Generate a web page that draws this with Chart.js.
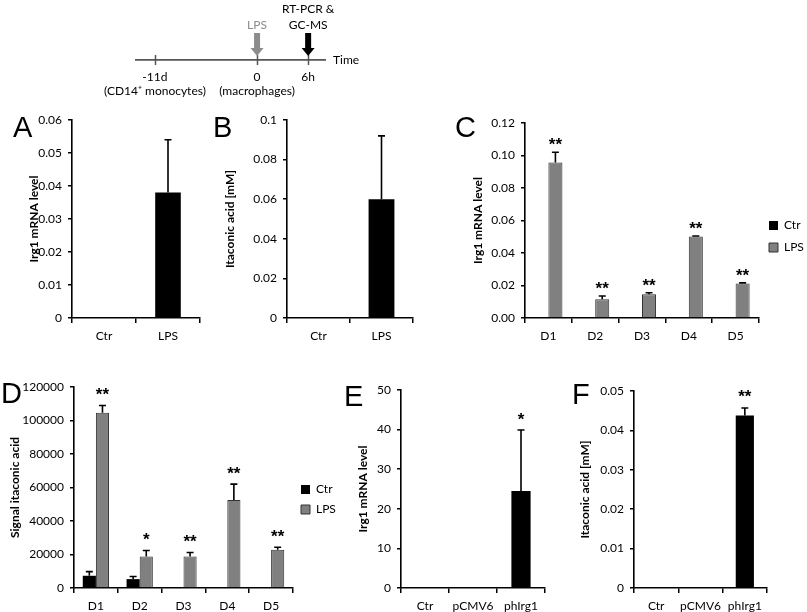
<!DOCTYPE html>
<html>
<head>
<meta charset="utf-8">
<script src="https://cdn.jsdelivr.net/npm/chart.js@4.4.1/dist/chart.umd.min.js"></script>
<style>
  body { margin: 0; background: #fff; }
  #fig { position: relative; width: 807px; height: 612px; overflow: hidden; }
  #fig canvas { position: absolute; }
  .letter { position: absolute; font-family: 'Liberation Sans', Arial, sans-serif; font-size: 29px; line-height: 1; color: #000; }
</style>
</head>
<body>
<div id="fig">
  <canvas id="timeline"></canvas>
  <canvas id="chartA"></canvas>
  <canvas id="chartB"></canvas>
  <canvas id="chartC"></canvas>
  <canvas id="chartD"></canvas>
  <canvas id="chartE"></canvas>
  <canvas id="chartF"></canvas>
  <div class="letter" style="left:13px;top:113px">A</div>
  <div class="letter" style="left:213px;top:113px">B</div>
  <div class="letter" style="left:455px;top:113px">C</div>
  <div class="letter" style="left:1px;top:379px">D</div>
  <div class="letter" style="left:344px;top:382px">E</div>
  <div class="letter" style="left:572px;top:380px">F</div>
</div>
<script>
// Timeline (schematic time axis)
const tlPos = [0, 2, 3];
const tlMain = ['-11d', '0', '6h'];
const tlSub = ['(CD14\u207A monocytes)', '(macrophages)', ''];
const tlEvents = [1, 2];
const tlEventText = [['LPS'], ['RT-PCR &', 'GC-MS']];

// A: Irg1 mRNA
const catA = ['Ctr', 'LPS'];
const valA = [0, 0.038];
const errA = [0, 0.016];

// B: itaconic acid
const catB = ['Ctr', 'LPS'];
const valB = [0, 0.06];
const errB = [0, 0.032];

// C: Irg1 mRNA per donor
const donors = ['D1', 'D2', 'D3', 'D4', 'D5'];
const ctrC = [0, 0, 0, 0, 0];
const lpsC = [0.0957, 0.0115, 0.0146, 0.0501, 0.0212];
const lpsErrC = [0.0063, 0.0020, 0.0009, 0.0004, 0.0004];
const starsC = ['**', '**', '**', '**', '**'];

// D: signal itaconic acid per donor
const ctrD = [7300, 5300, 0, 0, 0];
const ctrErrD = [2500, 1600, 0, 0, 0];
const lpsD = [104700, 18800, 18800, 52500, 22800];
const lpsErrD = [4300, 3600, 2400, 9500, 1500];
const starsD = ['**', '*', '**', '**', '**'];

// E / F: transfection
const catEF = ['Ctr', 'pCMV6', 'phIrg1'];
const valE = [0, 0, 24.5];
const errE = [0, 0, 15.4];
const starsE = ['', '', '*'];
const valF = [0, 0, 0.0438];
const errF = [0, 0, 0.0019];
const starsF = ['', '', '**'];

const BLACK = '#000000';
const GREY = '#808080';

Chart.defaults.font.family = 'Lato, "Open Sans", sans-serif';
Chart.defaults.font.size = 12;
Chart.defaults.color = '#000';

// error bars (upper only) + significance stars
const errorBars = {
    id: 'errorBars',
    afterDatasetsDraw(chart, args, opts) {
        const ctx = chart.ctx;
        const y = chart.scales.y;
        chart.data.datasets.forEach((ds, di) => {
            if (!ds.errors) return;
            const meta = chart.getDatasetMeta(di);
            meta.data.forEach((bar, i) => {
                const e = ds.errors[i];
                const top = y.getPixelForValue(ds.data[i] + (e || 0));
                ctx.save();
                if (e) {
                    ctx.strokeStyle = '#000';
                    ctx.lineWidth = 1.6;
                    ctx.beginPath();
                    ctx.moveTo(bar.x, bar.y);
                    ctx.lineTo(bar.x, top);
                    ctx.moveTo(bar.x - 3.5, top);
                    ctx.lineTo(bar.x + 3.5, top);
                    ctx.stroke();
                }
                const s = ds.stars && ds.stars[i];
                if (s) {
                    ctx.fillStyle = '#000';
                    ctx.font = 'bold 17px "Liberation Sans", Arial, sans-serif';
                    ctx.textAlign = 'center';
                    ctx.textBaseline = 'middle';
                    ctx.fillText(s, bar.x, top - (opts.gap || 13) + 4);
                }
                ctx.restore();
            });
        });
    }
};

// force the legend box to a fixed width so the plot area lands where wanted
const legendWidth = {
    id: 'legendWidth',
    beforeLayout(chart, args, opts) {
        const lg = chart.legend;
        if (lg && opts.width && !lg._fixedWidth) {
            const fit = lg.fit.bind(lg);
            lg.fit = function () {
                fit();
                this.width = opts.width;
            };
            lg._fixedWidth = true;
        }
    }
};

function makeBar(id, box, area, labels, datasets, yOpts) {
    const canvas = document.getElementById(id);
    canvas.width = box.w;
    canvas.height = box.h;
    canvas.style.left = box.x + 'px';
    canvas.style.top = box.y + 'px';
    const hasLegend = !!yOpts.legend;
    const rightRoom = box.x + box.w - area.r;
    return new Chart(canvas, {
        type: 'bar',
        data: { labels: labels, datasets: datasets },
        options: {
            responsive: false,
            animation: false,
            devicePixelRatio: 1,
            layout: { padding: { left: 0, top: area.t - box.y, right: hasLegend ? 0 : rightRoom, bottom: 0 } },
            datasets: { bar: { categoryPercentage: yOpts.cp, barPercentage: yOpts.bp } },
            scales: {
                x: {
                    grid: { offset: true, drawOnChartArea: false, tickLength: 5, color: '#000', lineWidth: 1.5 },
                    border: { color: '#000', width: 1.6 },
                    ticks: { padding: 6, color: '#000', font: { size: 12 }, maxRotation: 0, autoSkip: false },
                    afterFit: s => { s.height = box.y + box.h - area.b; }
                },
                y: {
                    min: 0,
                    max: yOpts.max,
                    grid: { drawOnChartArea: false, tickLength: 4, color: '#000', lineWidth: 1.5 },
                    border: { color: '#000', width: 1.6 },
                    ticks: { stepSize: yOpts.step, padding: 6, color: '#000', font: { size: 12 }, callback: yOpts.fmt },
                    title: { display: true, text: yOpts.title, color: '#000', font: { size: 12, weight: 'bold' }, padding: 0 },
                    afterFit: s => { s.width = area.l - box.x; }
                }
            },
            plugins: {
                legend: hasLegend ? {
                    display: true,
                    position: 'right',
                    labels: { boxWidth: 9, boxHeight: 9, padding: yOpts.legend.padding, color: '#000', font: { size: 12 } }
                } : { display: false },
                legendWidth: { width: hasLegend ? rightRoom : 0 },
                tooltip: { enabled: false },
                errorBars: { gap: yOpts.gap }
            }
        },
        plugins: [errorBars, legendWidth]
    });
}

function initializeTimeline() {
    const canvas = document.getElementById('timeline');
    const box = { x: 40, y: 0, w: 340, h: 110 };
    canvas.width = box.w;
    canvas.height = box.h;
    canvas.style.left = box.x + 'px';
    canvas.style.top = box.y + 'px';
    const timeDeco = {
        id: 'timeDeco',
        afterDraw(chart) {
            const ctx = chart.ctx;
            const x = chart.scales.x;
            const yLine = chart.chartArea.bottom;
            ctx.save();
            ctx.strokeStyle = '#555';
            ctx.lineWidth = 1.5;
            tlPos.forEach(p => {
                const px = Math.round(x.getPixelForValue(p)) + 0.5;
                ctx.beginPath();
                ctx.moveTo(px, yLine - 5);
                ctx.lineTo(px, yLine + 5);
                ctx.stroke();
            });
            ctx.font = '12px Lato, sans-serif';
            ctx.textAlign = 'left';
            ctx.textBaseline = 'middle';
            ctx.fillStyle = '#000';
            ctx.fillText('Time', chart.chartArea.right + 8, yLine);
            tlEvents.forEach((ti, k) => {
                const px = x.getPixelForValue(tlPos[ti]);
                const col = k === 0 ? '#8c8c8c' : '#000';
                ctx.fillStyle = col;
                const top = 33, tip = yLine - 4;
                ctx.beginPath();
                ctx.moveTo(px - 3, top);
                ctx.lineTo(px + 3, top);
                ctx.lineTo(px + 3, tip - 8);
                ctx.lineTo(px + 6.5, tip - 8);
                ctx.lineTo(px, tip);
                ctx.lineTo(px - 6.5, tip - 8);
                ctx.lineTo(px - 3, tip - 8);
                ctx.closePath();
                ctx.fill();
                ctx.textAlign = 'center';
                const lines = tlEventText[k];
                lines.forEach((t, j) => {
                    ctx.fillText(t, px, 25 - (lines.length - 1 - j) * 16);
                });
            });
            ctx.restore();
        }
    };
    new Chart(canvas, {
        type: 'line',
        data: { datasets: [{ data: [] }] },
        options: {
            responsive: false,
            animation: false,
            devicePixelRatio: 1,
            layout: { padding: { left: 136 - box.x, right: box.x + box.w - 325, top: 30, bottom: 0 } },
            scales: {
                x: {
                    type: 'linear',
                    min: -0.37,
                    max: 3.33,
                    grid: { display: false },
                    border: { color: '#555', width: 1.8 },
                    ticks: {
                        padding: 2,
                        color: '#000',
                        autoSkip: false,
                        maxRotation: 0,
                        font: { size: 12, lineHeight: 1.17 },
                        callback: (v, i) => tlSub[i] ? [tlMain[i], tlSub[i]] : tlMain[i]
                    },
                    afterBuildTicks: s => { s.ticks = tlPos.map(v => ({ value: v })); },
                    afterFit: s => { s.height = box.h - 60; }
                },
                y: { display: false, min: 0, max: 1 }
            },
            plugins: { legend: { display: false }, tooltip: { enabled: false } }
        },
        plugins: [timeDeco]
    });
}

const fmt2 = v => (v === 0 ? '0' : v.toFixed(2));
const fmtTrim = v => (v === 0 ? '0' : String(+v.toFixed(2)));
const fmtFixed = v => v.toFixed(2);
const fmtInt = v => String(Math.round(v));

document.addEventListener('DOMContentLoaded', () => {
    initializeTimeline();

    makeBar('chartA', { x: 27, y: 100, w: 183, h: 250 }, { l: 72, t: 120, r: 200, b: 318 }, catA,
        [{ label: 'A', data: valA, errors: errA, backgroundColor: BLACK, borderWidth: 0 }],
        { max: 0.06, step: 0.01, fmt: fmt2, title: 'Irg1 mRNA level', cp: 1, bp: 0.4, gap: 13 });

    makeBar('chartB', { x: 223, y: 100, w: 200, h: 250 }, { l: 287, t: 120, r: 413, b: 318 }, catB,
        [{ label: 'B', data: valB, errors: errB, backgroundColor: BLACK, borderWidth: 0 }],
        { max: 0.1, step: 0.02, fmt: fmtTrim, title: 'Itaconic acid [mM]', cp: 1, bp: 0.41, gap: 13 });

    makeBar('chartC', { x: 471, y: 100, w: 336, h: 250 }, { l: 525, t: 123, r: 759, b: 318 }, donors,
        [
            { label: 'Ctr', data: ctrC, backgroundColor: BLACK, borderColor: BLACK, borderWidth: 0 },
            { label: 'LPS', data: lpsC, errors: lpsErrC, stars: starsC, backgroundColor: GREY, borderColor: '#333', borderWidth: 1 }
        ],
        { max: 0.12, step: 0.02, fmt: fmtFixed, title: 'Irg1 mRNA level', cp: 0.6, bp: 1, gap: 11, legend: { padding: 10 } });

    makeBar('chartD', { x: 8, y: 367, w: 342, h: 245 }, { l: 74, t: 387, r: 293, b: 588 }, donors,
        [
            { label: 'Ctr', data: ctrD, errors: ctrErrD, backgroundColor: BLACK, borderColor: BLACK, borderWidth: 0 },
            { label: 'LPS', data: lpsD, errors: lpsErrD, stars: starsD, backgroundColor: GREY, borderColor: '#333', borderWidth: 1 }
        ],
        { max: 120000, step: 20000, fmt: fmtInt, title: 'Signal itaconic acid', cp: 0.6, bp: 1, gap: 14, legend: { padding: 8 } });

    makeBar('chartE', { x: 356, y: 370, w: 199, h: 242 }, { l: 401, t: 390, r: 545, b: 588 }, catEF,
        [{ label: 'E', data: valE, errors: errE, stars: starsE, backgroundColor: BLACK, borderWidth: 0 }],
        { max: 50, step: 10, fmt: fmtInt, title: 'Irg1 mRNA level', cp: 1, bp: 0.4, gap: 14 });

    makeBar('chartF', { x: 578, y: 371, w: 199, h: 241 }, { l: 634, t: 391, r: 767, b: 588 }, catEF,
        [{ label: 'F', data: valF, errors: errF, stars: starsF, backgroundColor: BLACK, borderWidth: 0 }],
        { max: 0.05, step: 0.01, fmt: fmt2, title: 'Itaconic acid [mM]', cp: 1, bp: 0.41, gap: 15 });
});
</script>
</body>
</html>
